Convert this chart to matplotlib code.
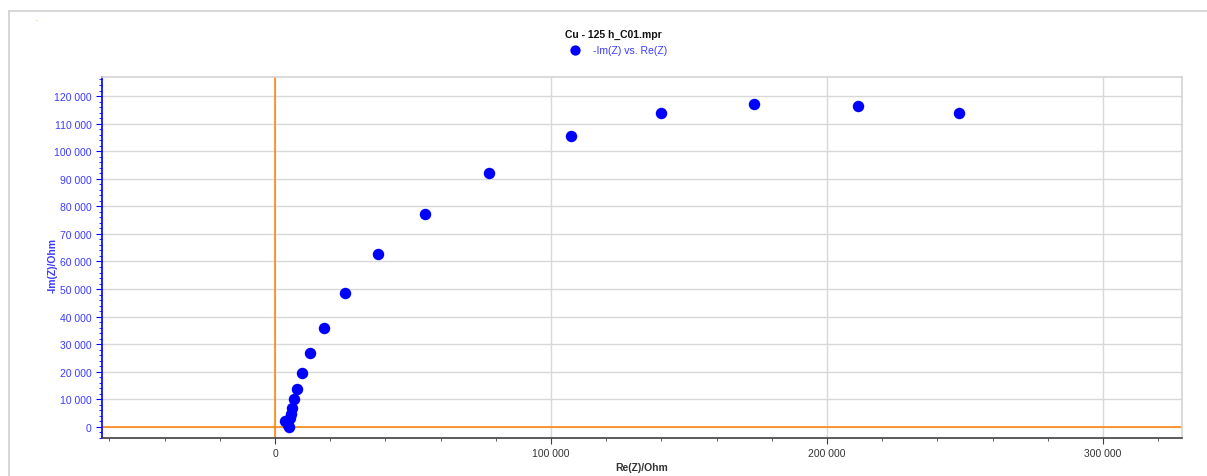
import matplotlib
matplotlib.use("Agg")
from matplotlib import pyplot as plt
from matplotlib.ticker import MultipleLocator, FuncFormatter
from matplotlib.lines import Line2D

plt.rcParams['font.family'] = ['Liberation Sans', 'DejaVu Sans']

# Nyquist data (Ohm)
re_z = [247800, 211200, 173500, 139900, 107200, 77500, 54300, 37300, 25400,
        17750, 12700, 9800, 8000, 6900, 6150, 5800, 5450, 3450, 4550, 4950]
im_z = [113800, 116400, 117100, 113800, 105500, 92100, 77200, 62700, 48600,
        35900, 26800, 19600, 13800, 10150, 6900, 4700, 3100, 2100, 550, 100]

title = "Cu - 125 h_C01.mpr"
series_name = "-Im(Z) vs. Re(Z)"

blue = "#0000ff"
label_blue = "#3a3aff"
orange = "#ff8000"


def space_thousands(v, pos):
    return f"{int(round(v)):,}".replace(",", " ")


fig = plt.figure(figsize=(12.07, 4.77), dpi=100)
# light grey frame of the plot window (left and top edges only visible)
fx, fy = 8.5 / 1207, 1 - 11.5 / 477
fig.add_artist(Line2D([fx, fx], [0, fy], transform=fig.transFigure, color="#d0d0d0", lw=1.2))
fig.add_artist(Line2D([fx, 1], [fy, fy], transform=fig.transFigure, color="#d0d0d0", lw=1.2))
fig.text(37 / 1207, 1 - 21 / 477, "-", color=orange, fontsize=4, ha="center", va="center")

ax = fig.add_axes([102 / 1207, 1 - 439 / 477, 1080 / 1207, 361 / 477])
ax.scatter(re_z, im_z, s=68, color=blue, zorder=4, label=series_name, linewidths=0)

ax.set_xlim(-62700, 328600)
ax.set_ylim(-4000, 126900)

ax.axvline(0, color=orange, linewidth=1.1, zorder=2)
ax.axhline(0, color=orange, linewidth=1.1, zorder=2)

ax.xaxis.set_major_locator(MultipleLocator(100000))
ax.xaxis.set_minor_locator(MultipleLocator(20000))
ax.yaxis.set_major_locator(MultipleLocator(10000))
ax.yaxis.set_minor_locator(MultipleLocator(2000))
ax.xaxis.set_major_formatter(FuncFormatter(space_thousands))
ax.yaxis.set_major_formatter(FuncFormatter(space_thousands))

ax.grid(True, which="major", color="#d8d8d8", linewidth=1, zorder=1)
ax.set_axisbelow(True)

for s in ["top", "right"]:
    ax.spines[s].set_color("#d4d4d4")
    ax.spines[s].set_linewidth(1.2)
ax.spines["left"].set_color(blue)
ax.spines["left"].set_linewidth(1.2)
ax.spines["bottom"].set_color("#404040")
ax.spines["bottom"].set_linewidth(1.2)

ax.tick_params(axis="y", which="both", colors=blue, labelcolor=label_blue, labelsize=7.5)
ax.tick_params(axis="y", which="major", length=4)
ax.tick_params(axis="y", which="minor", length=2)
ax.tick_params(axis="x", which="both", colors="#404040", labelcolor="#333333", labelsize=7.5)
ax.tick_params(axis="x", which="major", length=4)
ax.tick_params(axis="x", which="minor", length=2)

ax.set_xlabel("Re(Z)/Ohm", fontsize=7.5, fontweight="bold", color="#333333")
ax.set_ylabel("-Im(Z)/Ohm", fontsize=7.5, fontweight="bold", color=label_blue)
ax.xaxis.set_label_coords(0.5, -24 / 361)
ax.yaxis.set_label_coords(-44 / 1080, 0.48)

fig.text(613 / 1207, 1 - 35 / 477, title, fontsize=7.5, fontweight="bold",
         ha="center", va="center", color="#111111")
leg = fig.legend(loc="center", bbox_to_anchor=(616 / 1207, 1 - 51 / 477), frameon=False,
                 fontsize=7.5, handletextpad=0.8, markerscale=0.9)
for t in leg.get_texts():
    t.set_color(label_blue)

fig.savefig("out.png", dpi=100)
